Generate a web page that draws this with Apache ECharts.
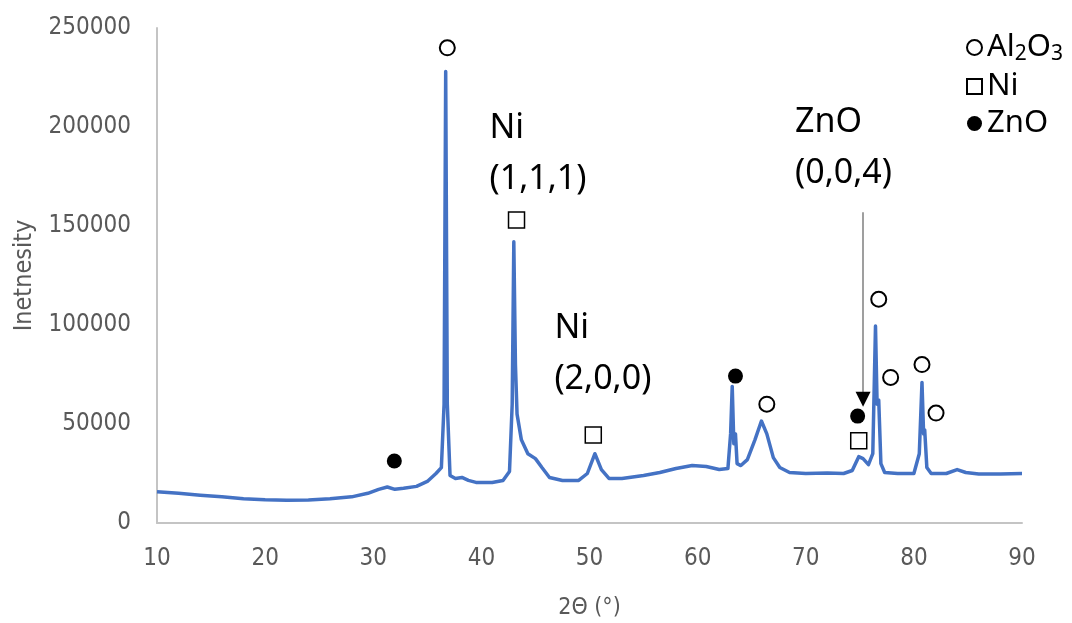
<!DOCTYPE html>
<html>
<head>
<meta charset="utf-8">
<script src="https://cdn.jsdelivr.net/npm/echarts@6/dist/echarts.min.js"></script>
<style>
  html, body { margin: 0; padding: 0; background: #fff; }
  #chart { width: 1072px; height: 623px; }
</style>
</head>
<body>
<div id="chart"></div>
<script>
// XRD pattern: diffraction angle 2Θ (degrees) and measured intensity
const twoTheta = [
  10.0, 12, 14, 16, 18, 20, 22, 24, 26, 28, 29.5, 30.5, 31.3, 32.0, 32.8, 34.0, 35.0, 35.8, 36.3,
  36.55, 36.7, 36.85, 37.1, 37.6, 38.2, 38.8, 39.5, 41.0, 42.0, 42.6, 42.85, 43.0, 43.15, 43.3,
  43.7, 44.3, 45.0, 45.6, 46.3, 47.5, 49.0, 49.8, 50.5, 51.1, 51.8, 53, 55, 56.5, 58, 59.5,
  60.8, 62.0, 62.8, 63.05, 63.2, 63.35, 63.5, 63.65, 64.0, 64.6, 65.3, 65.9, 66.4, 67.0, 67.6,
  68.5, 70, 72, 73.5, 74.3, 74.9, 75.3, 75.8, 76.2, 76.45, 76.6, 76.75, 76.95, 77.3, 78.5,
  80.0, 80.5, 80.75, 80.9, 81.0, 81.2, 81.6, 83, 84.0, 84.8, 86, 88, 90
];
const intensity = [
  15800, 15000, 14000, 13200, 12200, 11700, 11500, 11600, 12200, 13200, 15000, 17000, 18200, 17000, 17500, 18500, 21000, 25000, 28000,
  60000, 228000, 60000, 24000, 22500, 23000, 21500, 20500, 20500, 21500, 26000, 60000, 142000, 80000, 55000,
  42000, 35000, 32500, 28000, 23000, 21500, 21500, 25000, 35000, 27000, 22500, 22500, 24000, 25500, 27500, 29000,
  28500, 27000, 27500, 45000, 69000, 40000, 45000, 30000, 29000, 32000, 42000, 51500, 45000, 33000, 28000,
  25500, 25000, 25200, 25000, 26500, 33500, 32500, 29500, 35000, 99500, 60000, 62000, 30000, 25500, 25000,
  25000, 35000, 71000, 45000, 47000, 28000, 25000, 25000, 27000, 25500, 24800, 24800, 25000
];

// Phase markers placed above the assigned reflections [2Θ, intensity]
const al2o3Marks = [[36.85, 240000], [66.4, 60000], [76.75, 113000], [77.85, 73500], [80.75, 80000], [82.05, 55500]];
const niMarks = [[43.25, 153000], [50.35, 44500], [74.9, 41500]];
const znoMarks = [[31.95, 31300], [63.5, 74200], [74.8, 54000]];

// Miller-index annotations: [2Θ, intensity of the text block's top-left, text]
const peakNotes = [
  [40.8, 212000, 'Ni\n(1,1,1)'],
  [46.8, 111000, 'Ni\n(2,0,0)'],
  [69.05, 215000, 'ZnO\n(0,0,4)']
];
// Arrow from the ZnO (0,0,4) note down to its reflection
const arrowX = 75.3;
const arrowFrom = 157000;
const arrowTip = 62500;

const xTicks = { min: 10, max: 90, interval: 10 };
const yTicks = { min: 0, max: 250000, interval: 50000 };

const chart = echarts.init(document.getElementById('chart'), null, { renderer: 'canvas' });

const tickFont = "'DejaVu Sans Condensed', 'Liberation Sans Narrow', 'Noto Sans', sans-serif";
const textFont = "'Noto Sans', 'Open Sans', sans-serif";
const axisGrey = '#595959';
const lineGrey = '#c4c4c4';

chart.setOption({
  animation: false,
  backgroundColor: '#ffffff',
  grid: { left: 157, right: 50, top: 28, bottom: 100, containLabel: false, outerBoundsMode: 'none' },
  legend: {
    orient: 'vertical',
    left: 961,
    top: 27,
    itemWidth: 15,
    itemHeight: 15,
    itemGap: 6,
    data: ['Al2O3', 'Ni', 'ZnO'],
    formatter: function (name) {
      if (name === 'Al2O3') return '{n|Al}{s|2}{n|O}{s|3}';
      return '{n|' + name + '}';
    },
    textStyle: {
      fontFamily: textFont,
      color: '#000',
      fontSize: 31,
      rich: {
        n: { fontFamily: textFont, fontSize: 31, color: '#000', lineHeight: 35 },
        s: { fontFamily: textFont, fontSize: 21, color: '#000', lineHeight: 16, verticalAlign: 'bottom' }
      }
    }
  },
  xAxis: {
    type: 'value',
    min: xTicks.min, max: xTicks.max, interval: xTicks.interval,
    name: '2Θ (°)',
    nameLocation: 'middle',
    nameGap: 74,
    nameTextStyle: { fontFamily: tickFont, fontSize: 23, color: axisGrey },
    axisLine: { show: true, lineStyle: { color: lineGrey, width: 2 } },
    axisTick: { show: false },
    splitLine: { show: false },
    axisLabel: { fontFamily: tickFont, fontSize: 24, color: axisGrey, margin: 24 }
  },
  yAxis: {
    type: 'value',
    min: yTicks.min, max: yTicks.max, interval: yTicks.interval,
    name: 'Inetnesity',
    nameLocation: 'middle',
    nameGap: 120,
    nameTextStyle: { fontFamily: tickFont, fontSize: 25, color: axisGrey },
    axisLine: { show: true, lineStyle: { color: lineGrey, width: 2 } },
    axisTick: { show: false },
    splitLine: { show: false },
    axisLabel: { fontFamily: tickFont, fontSize: 24, color: axisGrey, margin: 26, formatter: v => String(v) }
  },
  series: [
    {
      name: 'pattern',
      type: 'line',
      data: twoTheta.map((t, i) => [t, intensity[i]]),
      showSymbol: false,
      symbol: 'none',
      lineStyle: { color: '#4472C4', width: 3.5, join: 'round' },
      z: 2
    },
    {
      name: 'Al2O3',
      type: 'scatter',
      data: al2o3Marks,
      symbol: 'circle',
      symbolSize: 15,
      itemStyle: { color: '#ffffff', borderColor: '#000', borderWidth: 2, opacity: 1 },
      z: 5
    },
    {
      name: 'Ni',
      type: 'scatter',
      data: niMarks,
      symbol: 'rect',
      symbolSize: 16,
      itemStyle: { color: '#ffffff', borderColor: '#000', borderWidth: 1.5, opacity: 1 },
      z: 5
    },
    {
      name: 'ZnO',
      type: 'scatter',
      data: znoMarks,
      symbol: 'circle',
      symbolSize: 15,
      itemStyle: { color: '#000', opacity: 1 },
      z: 5
    },
    {
      name: 'notes',
      type: 'scatter',
      data: peakNotes.map(n => ({ value: [n[0], n[1]], note: n[2] })),
      symbolSize: 1,
      itemStyle: { color: 'rgba(0,0,0,0)', opacity: 1 },
      label: {
        show: true,
        position: [0, 0],
        align: 'left',
        verticalAlign: 'top',
        fontFamily: textFont,
        fontSize: 34,
        lineHeight: 51,
        color: '#000',
        formatter: p => p.data.note
      },
      markLine: {
        silent: true,
        symbol: ['none', 'none'],
        lineStyle: { color: '#7f7f7f', width: 1.5, type: 'solid' },
        label: { show: false },
        data: [[{ coord: [arrowX, arrowFrom] }, { coord: [arrowX, arrowTip] }]]
      },
      z: 4
    },
    {
      name: 'arrowhead',
      type: 'scatter',
      data: [[arrowX, arrowTip]],
      symbol: 'triangle',
      symbolRotate: 180,
      symbolSize: [15, 15],
      itemStyle: { color: '#000', opacity: 1 },
      z: 6
    }
  ]
});
</script>
</body>
</html>
